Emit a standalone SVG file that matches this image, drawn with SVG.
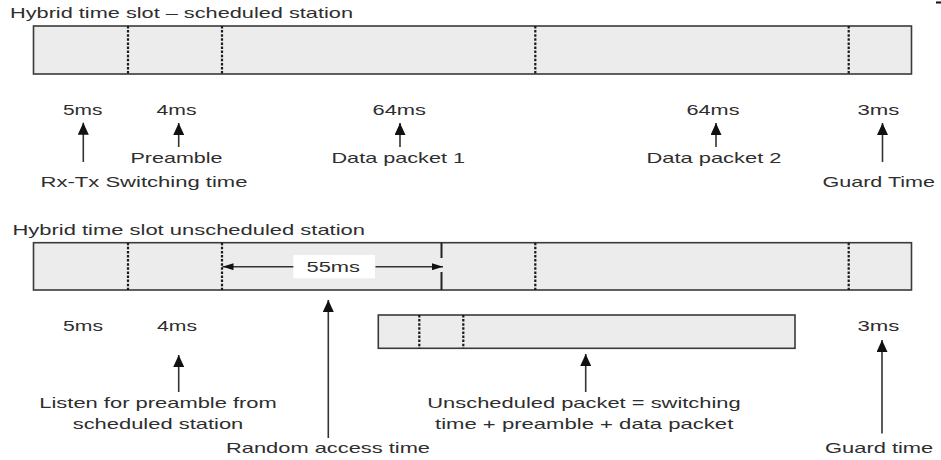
<svg xmlns="http://www.w3.org/2000/svg" width="941" height="460" viewBox="0 0 941 460">
<style>
text{font-family:"Liberation Sans",Arial,sans-serif;font-size:14.5px;fill:#2e2e2e}
.bar{fill:#ececec;stroke:#3a3a3a;stroke-width:1.6}
.dash{stroke:#1a1a1a;stroke-width:2.2;stroke-dasharray:2.5 1.6}
.arr{stroke:#333;stroke-width:1.6;fill:none}
</style>
<defs>
<marker id="ah" markerUnits="userSpaceOnUse" markerWidth="12" markerHeight="11" refX="12" refY="5.5" orient="auto"><path d="M0,0 L12,5.5 L0,11 z" fill="#111"/></marker>
<marker id="ahs" markerUnits="userSpaceOnUse" markerWidth="11" markerHeight="7" refX="11" refY="3.5" orient="auto"><path d="M0,0 L11,3.5 L0,7 z" fill="#111"/></marker>
</defs>
<rect x="936" y="1.5" width="5" height="2" fill="#111"/>
<g id="slot1">
<text x="10" y="18" textLength="343" lengthAdjust="spacingAndGlyphs">Hybrid time slot – scheduled station</text>
<rect class="bar" x="33.5" y="26" width="878" height="48"/>
<line class="dash" x1="128" y1="26" x2="128" y2="74"/>
<line class="dash" x1="222" y1="26" x2="222" y2="74"/>
<line class="dash" x1="535.3" y1="26" x2="535.3" y2="74"/>
<line class="dash" x1="848.7" y1="26" x2="848.7" y2="74"/>
</g>
<g id="labels1">
<text x="63" y="115" textLength="39.5" lengthAdjust="spacingAndGlyphs">5ms</text>
<text x="156.5" y="115" textLength="40" lengthAdjust="spacingAndGlyphs">4ms</text>
<text x="372.5" y="115" textLength="53.5" lengthAdjust="spacingAndGlyphs">64ms</text>
<text x="686.5" y="115" textLength="53" lengthAdjust="spacingAndGlyphs">64ms</text>
<text x="857.5" y="115" textLength="42" lengthAdjust="spacingAndGlyphs">3ms</text>
<text x="130.5" y="163" textLength="92" lengthAdjust="spacingAndGlyphs">Preamble</text>
<text x="331.5" y="163" textLength="133.5" lengthAdjust="spacingAndGlyphs">Data packet 1</text>
<text x="646.5" y="163" textLength="135" lengthAdjust="spacingAndGlyphs">Data packet 2</text>
<text x="40.5" y="187" textLength="207" lengthAdjust="spacingAndGlyphs">Rx-Tx Switching time</text>
<text x="822.5" y="187" textLength="112.5" lengthAdjust="spacingAndGlyphs">Guard Time</text>
</g>
<g id="slot2">
<text x="12.5" y="235" textLength="352.5" lengthAdjust="spacingAndGlyphs">Hybrid time slot unscheduled station</text>
<rect class="bar" x="33.5" y="242.7" width="878" height="47.3"/>
<line class="dash" x1="128" y1="242.7" x2="128" y2="290"/>
<line class="dash" x1="222" y1="242.7" x2="222" y2="290"/>
<line class="dash" x1="535.3" y1="242.7" x2="535.3" y2="290"/>
<line class="dash" x1="848.7" y1="242.7" x2="848.7" y2="290"/>
<line x1="441.5" y1="242.7" x2="441.5" y2="258" stroke="#222" stroke-width="2"/>
<line x1="441.5" y1="272" x2="441.5" y2="290" stroke="#222" stroke-width="2"/>
<rect x="293.3" y="255" width="81.7" height="23.3" fill="#fff"/>
<text x="306.5" y="272" textLength="53.5" lengthAdjust="spacingAndGlyphs">55ms</text>
</g>
<g id="packet">
<rect class="bar" x="378.3" y="315" width="416.7" height="33.3"/>
<line class="dash" x1="419.3" y1="315" x2="419.3" y2="348.3"/>
<line class="dash" x1="463.3" y1="315" x2="463.3" y2="348.3"/>
</g>
<g id="labels2">
<text x="63" y="331" textLength="40" lengthAdjust="spacingAndGlyphs">5ms</text>
<text x="157" y="331" textLength="40" lengthAdjust="spacingAndGlyphs">4ms</text>
<text x="857.5" y="331" textLength="42" lengthAdjust="spacingAndGlyphs">3ms</text>
<text x="39.3" y="407.5" textLength="237.5" lengthAdjust="spacingAndGlyphs">Listen for preamble from</text>
<text x="72.7" y="428.5" textLength="170.6" lengthAdjust="spacingAndGlyphs">scheduled station</text>
<text x="427.3" y="408" textLength="313.4" lengthAdjust="spacingAndGlyphs">Unscheduled packet = switching</text>
<text x="435" y="428.5" textLength="298.3" lengthAdjust="spacingAndGlyphs">time + preamble + data packet</text>
<text x="226" y="453" textLength="204" lengthAdjust="spacingAndGlyphs">Random access time</text>
<text x="825" y="453" textLength="108.3" lengthAdjust="spacingAndGlyphs">Guard time</text>
</g>
<g id="connectors">
<line class="arr" x1="83.3" y1="162" x2="83.3" y2="122.7" marker-end="url(#ah)"/>
<line class="arr" x1="178.7" y1="147" x2="178.7" y2="123" marker-end="url(#ah)"/>
<line class="arr" x1="400" y1="147" x2="400" y2="123" marker-end="url(#ah)"/>
<line class="arr" x1="716" y1="147" x2="716" y2="123" marker-end="url(#ah)"/>
<line class="arr" x1="882.5" y1="162" x2="882.5" y2="123" marker-end="url(#ah)"/>
<line class="arr" x1="293.3" y1="266.7" x2="222.5" y2="266.7" marker-end="url(#ahs)"/>
<line class="arr" x1="375.5" y1="266.7" x2="443" y2="266.7" marker-end="url(#ahs)"/>
<line class="arr" x1="328.3" y1="438" x2="328.3" y2="300" marker-end="url(#ah)"/>
<line class="arr" x1="178.7" y1="392" x2="178.7" y2="355" marker-end="url(#ah)"/>
<line class="arr" x1="585.7" y1="392" x2="585.7" y2="354" marker-end="url(#ah)"/>
<line class="arr" x1="882" y1="433.5" x2="882" y2="340" marker-end="url(#ah)"/>
</g>
</svg>
